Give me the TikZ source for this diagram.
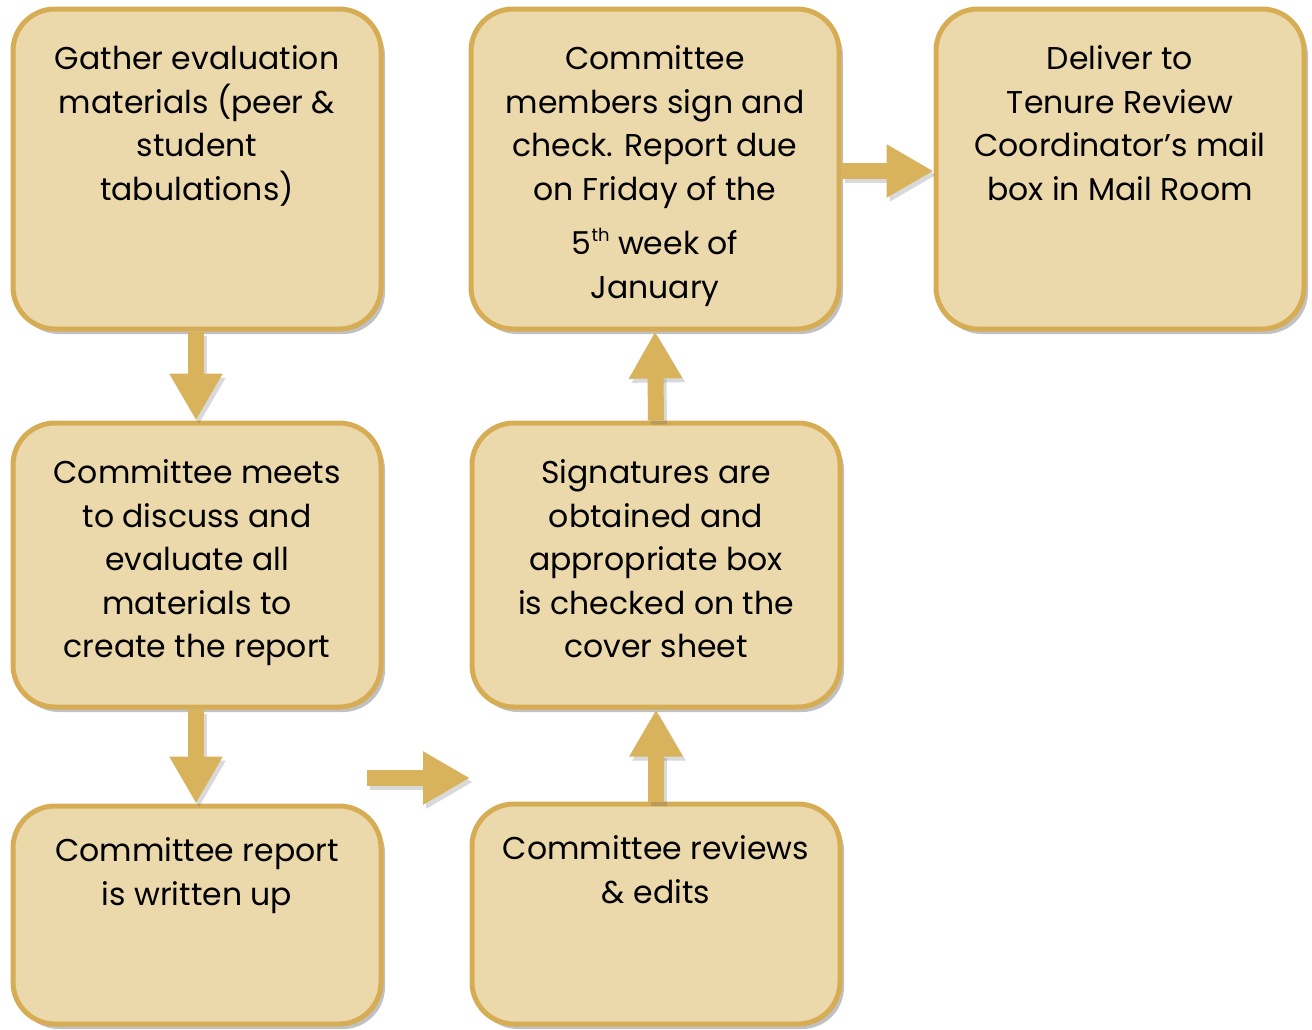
\documentclass[tikz,border=0pt]{standalone}
\usepackage{fontspec}
\setmainfont{Poppins}
\usetikzlibrary{arrows.meta,shadows}
\definecolor{boxfill}{HTML}{EBD8AB}
\definecolor{boxline}{HTML}{D6AD55}
\definecolor{arrowcol}{HTML}{D9B35C}
\tikzset{
  x=1pt,y=-1pt,
  stepbox/.style={draw=boxline, line width=5pt, fill=boxfill, rounded corners=42pt,
     minimum width=368pt, minimum height=#1, inner sep=0pt,
     drop shadow={shadow xshift=4pt, shadow yshift=-5pt, opacity=0.35, fill=black!70}},
  steptext/.style={anchor=north, align=center, inner sep=0pt, font=\fontsize{31.5}{43.5}\selectfont, text=black},
  flowarrow/.style={draw=arrowcol, line width=16pt,
     -{Triangle[width=50pt,length=47pt,fill=arrowcol]}, shorten >=0pt,
     preaction={draw=black!60, opacity=0.25, line width=16pt, transform canvas={xshift=3pt,yshift=-4pt}, -{Triangle[width=50pt,length=47pt]}}}
}
\begin{document}
\begin{tikzpicture}
\useasboundingbox (0,0) rectangle (1312,1029);
% boxes
\node[stepbox=320pt] (b1) at (197,169) {};
\node[stepbox=284pt] (b2) at (197,565) {};
\node[stepbox=218pt] (b3) at (197,915) {};
\node[stepbox=220pt] (b4) at (656,914) {};
\node[stepbox=284pt] (b5) at (656,565) {};
\node[stepbox=320pt] (b6) at (655,169) {};
\node[stepbox=320pt] (b7) at (1120,169) {};
% texts
\node[steptext] (t1) at ([yshift=-39pt]b1.north) {Gather evaluation\\materials (peer \&\\student\\tabulations)};
\node[steptext] (t2) at ([yshift=-39pt]b2.north) {Committee meets\\to discuss and\\evaluate all\\materials to\\create the report};
\node[steptext] (t3) at ([yshift=-34pt]b3.north) {Committee report\\is written up};
\node[steptext] (t4) at ([yshift=-34pt]b4.north) {Committee reviews\\\& edits};
\node[steptext] (t5) at ([yshift=-39pt]b5.north) {Signatures are\\obtained and\\appropriate box\\is checked on the\\cover sheet};
\node[steptext] (t6) at ([yshift=-39pt]b6.north) {Committee\\members sign and\\check. Report due\\on Friday of the\\[11pt]5\raisebox{13pt}{\fontsize{18}{18}\selectfont th} week of\\January};
\node[steptext] (t7) at ([yshift=-39pt]b7.north) {Deliver to\\Tenure Review\\Coordinator’s mail\\box in Mail Room};
% arrows
\coordinate (h1) at (367,778);
\coordinate (h2) at (470,778);
\draw[flowarrow] ([xshift=-1pt]b1.south) -- ([xshift=-1pt]b2.north);
\draw[flowarrow] ([xshift=-1pt]b2.south) -- ([xshift=-1pt]b3.north);
\draw[flowarrow] (h1) -- (h2);
\draw[flowarrow] (b4.north) -- (b5.south);
\draw[flowarrow] (b5.north) -- (b6.south);
\draw[flowarrow] (b6.east |- 0,171) -- (b7.west |- 0,171);
\end{tikzpicture}
\end{document}
